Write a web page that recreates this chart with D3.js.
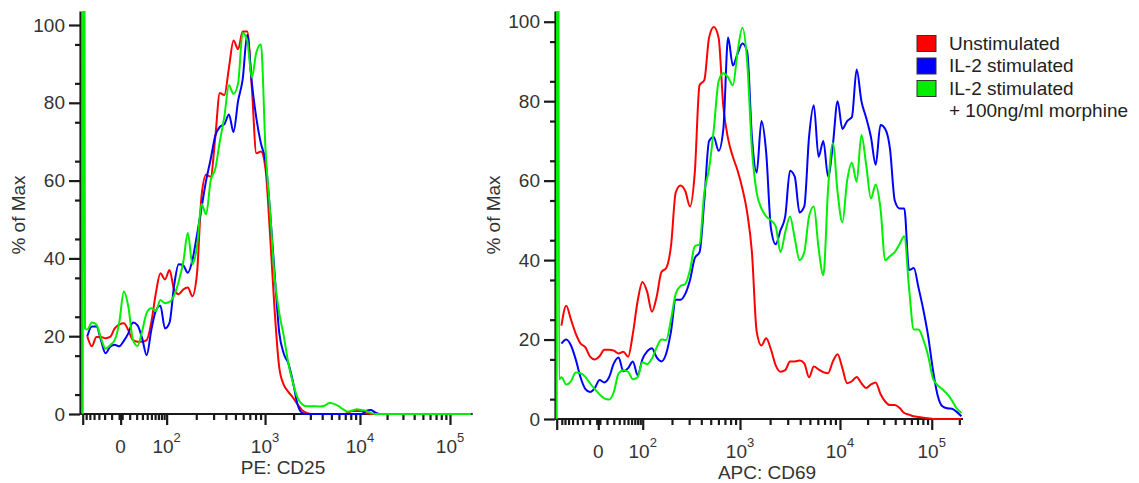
<!DOCTYPE html>
<html lang="en">
<head>
<meta charset="UTF-8">
<title>CD25 / CD69 histograms</title>
<script src="https://d3js.org/d3.v7.min.js"></script>
<style>
  body { margin: 0; background: #fff; }
  svg { display: block; font-family: "Liberation Sans", Arial, sans-serif; }
  .axis path, .axis line { stroke: #1a1a1a; stroke-width: 2.2; }
  .axis text { fill: #333; font-size: 19px; font-family: "Liberation Sans", Arial, sans-serif; }
  .trace { fill: none; stroke-width: 2; stroke-linejoin: round; }
  .title { fill: #333; font-size: 19px; }
  .legend text { fill: #222; font-size: 19px; }
</style>
</head>
<body>
<svg width="1139" height="483"></svg>
<script>
// histogram bins (display channels, 256 across the biexponential axis)
const channels = [0, 0.7, 1.5, 3, 6, 9, 12, 15, 18, 21, 24, 27, 30, 33, 36, 39, 42, 45, 48, 51, 54,
  57, 60, 63, 66, 69, 72, 75, 78, 81, 84, 87, 90, 93, 96, 99, 102, 105, 108, 111, 114,
  117, 120, 123, 126, 129, 132, 135, 138, 141, 144, 147, 150, 153, 156, 159, 162, 165, 168, 171, 174,
  177, 180, 183, 186, 189, 192, 195, 198, 201, 204, 207, 210, 213, 216, 219, 222, 225, 228, 231, 234,
  237, 240, 243, 246, 249, 252, 255];

// PE: CD25, % of max
const cd25Unstim = [null, null, null,
  20, 17.4, 19.8, 19.8, 19.5, 19.8, 22, 23, 23.3, 21.5,
  19, 18.6, 18.6, 19, 23.5, 31, 36.2, 34.6, 37, 32,
  30.8, 32, 32.5, 30.3, 36, 56, 61.5, 61, 71, 82.5,
  82, 89, 96, 93.8, 98.3, 98.3, 84, 67, 67.5, 63,
  46, 26.5, 12, 7.5, 5.7, 4.2, 2.5, 1, 0.3, 0,
  0, 0, 0, 0, 0, 0, 0, 0.3, 0.8, 0.8,
  0.8, 0.2, 0, 0, 0, 0, 0, 0, 0, 0,
  0, 0, 0, 0, 0, 0, 0, 0, 0, 0,
  0, 0, 0, 0, 0];
const cd25IL2 = [null, null, null,
  20, 22.5, 22.5, 19, 15.6, 17.3, 17.8, 17.4, 18.8, 20.8,
  23.5, 22.8, 19.5, 15.1, 21.5, 26.5, 27.8, 22, 23.5, 33,
  38.5, 38.2, 36.3, 39.5, 46, 53, 60, 65.5, 71.5, 73.8,
  74.5, 77, 72.5, 80.5, 86, 97.5, 85.2, 76, 69.5, 65,
  52, 36, 21, 15.5, 13, 8.3, 2.5, 0.3, 0, 0,
  0, 0, 0, 0, 0, 0, 0, 0, 0, 0,
  0, 0.8, 1, 0.4, 0, 0, 0, 0, 0, 0,
  0, 0, 0, 0, 0, 0, 0, 0, 0, 0,
  0, 0, 0, 0, 0];
const cd25Morphine = [0, 250, 22,
  21.7, 23.5, 23, 19.5, 16.8, 17.7, 19, 23.5, 31.5, 27.5,
  19, 17.5, 21.3, 26, 27.2, 26.5, 29.3, 28.5, 28.8, 30.5,
  34, 39, 46.5, 38.5, 43, 54, 51.3, 60, 63, 70,
  76.5, 84.5, 82.3, 85, 98, 96, 86.5, 93, 95, 68,
  52, 35, 26, 20, 13, 8, 4.2, 2.5, 2, 2,
  2, 1.9, 2.2, 2.8, 2.6, 2, 1.2, 0.6, 0.9, 1.2,
  1, 0.8, 0.3, 0, 0, 0, 0, 0, 0, 0,
  0, 0, 0, 0, 0, 0, 0, 0, 0, 0,
  0, 0, 0, 0, 0];

// APC: CD69, % of max
const cd69Unstim = [null, null, null,
  23.5, 28.5, 25, 21.5, 19, 18.1, 15.7, 15, 15.8, 17.4,
  17.4, 17.2, 16.5, 16.9, 15.7, 21.5, 29.7, 34.5, 32, 27,
  30.8, 37, 38, 43.5, 57, 58.8, 57.4, 53.5, 62, 84,
  85.3, 96, 98.7, 96, 78.6, 70.5, 66, 62.5, 58, 52,
  42, 22, 18.5, 20.3, 17.5, 13.5, 11.9, 12.3, 14.5, 14.5,
  14.7, 14, 10.5, 13.2, 12.5, 11.8, 11.5, 14.5, 16.3, 12.8,
  9, 9.5, 10.6, 9, 7.8, 8.7, 9.2, 6.3, 4.4, 3.5,
  3.5, 2.8, 1.5, 1.1, 0.7, 0.5, 0.3, 0.2, 0, 0,
  0, 0, 0, 0, 0];
const cd69IL2 = [null, null, null,
  19, 20, 18.5, 15, 10.5, 7.6, 6.8, 7.8, 9.8, 9.2,
  10.5, 14, 15.5, 12, 12.8, 14.5, 11, 15, 17, 17.8,
  15.5, 14.5, 16.5, 22, 30, 30, 31.5, 35, 40.5, 42,
  55, 70, 71, 67.5, 73, 96, 89, 92, 94.5, 92.5,
  71, 62, 75, 67, 48, 44, 47.5, 51, 62.5, 61,
  52, 53.5, 71, 79, 66, 70, 61, 69, 80, 73,
  75, 76, 88, 80, 75.8, 71, 64, 74, 73, 68,
  55, 53, 53, 37.5, 38, 33, 27.5, 21, 12.5, 6,
  3.2, 2.7, 2.6, 1.8, 0.7];
const cd69Morphine = [0, 250, 10,
  10.5, 8.7, 9.5, 11.7, 11.5, 10.6, 9, 7.5, 6.2, 5.2,
  4.9, 6.8, 11.5, 12.3, 11.9, 10, 10.5, 14.3, 13.8, 15.2,
  18, 20, 19.9, 25, 31.5, 33.5, 34, 37.5, 43.5, 44,
  57, 63, 73, 85, 87, 86, 84, 92.5, 98.5, 90,
  68, 57, 53, 51, 50, 48.5, 42, 47, 51, 45.5,
  40, 42, 51, 53.5, 43, 36.2, 58, 69.5, 57, 49.5,
  60, 64.5, 59.7, 71.5, 64, 55.5, 59, 53, 40, 41,
  42, 44, 46, 33, 22.5, 22.5, 20, 16, 10.3, 8.5,
  7.5, 6.3, 4.7, 2.7, 1.5];

// axis ticks: channel of left end, 0, 10^2, 10^3, 10^4, 10^5
const cd25TickChannels = [0, 24.9, 55.1, 119.7, 182.0, 241.1];
const cd69TickChannels = [0, 26.2, 54.2, 115.5, 178.5, 236.3];
const tickBase = ["", "0", "10", "10", "10", "10"];
const tickExp = ["", "", "2", "3", "4", "5"];
const yTicks = [0, 20, 40, 60, 80, 100];

const seriesNames = ["Unstimulated", "IL-2 stimulated", "IL-2 stimulated"];
const legendExtra = ["", "", "+ 100ng/ml morphine"];
const colors = ["#ff0000", "#0000ff", "#00ee00"];

const svg = d3.select("svg");

const panels = [
  { title: "PE: CD25", ticks: cd25TickChannels, series: [cd25Unstim, cd25IL2, cd25Morphine],
    axisX: 80, xRange: [82.7, 472.7], bottom: 414, top: 11, yMax: 103.6, titleX: 283 },
  { title: "APC: CD69", ticks: cd69TickChannels, series: [cd69Unstim, cd69IL2, cd69Morphine],
    axisX: 555, xRange: [556.7, 963], bottom: 419, top: 11, yMax: 102.7, titleX: 767 }
];

function minorChannels(maj) {
  const out = [];
  const f = v => Math.log(1 + v / 30) / Math.log(1 + 100 / 30);
  const span = maj[2] - maj[1];
  for (let v = 10; v < 100; v += 10) {
    out.push(maj[1] + span * f(v));
    const neg = maj[1] - span * f(v);
    if (neg > maj[0] + 2) out.push(neg);
  }
  out.push(maj[1] - 1, maj[1] + 1);
  for (let k = 2; k < 5; k++) {
    for (let m = 2; m < 10; m++) out.push(maj[k] + (maj[k + 1] - maj[k]) * Math.log10(m));
  }
  const last = maj[5] - maj[4];
  for (let m = 2; m < 10; m++) {
    const c = maj[5] + last * Math.log10(m);
    if (c <= 256) out.push(c);
  }
  return out;
}

panels.forEach((p, pi) => {
  const g = svg.append("g");
  const x = d3.scaleLinear().domain([0, 256]).range(p.xRange);
  const y = d3.scaleLinear().domain([0, p.yMax]).range([p.bottom, p.top]);

  // y axis
  g.append("g").attr("class", "axis")
    .attr("transform", `translate(${p.axisX},0)`)
    .call(d3.axisLeft(y).tickValues(yTicks).tickSize(11).tickSizeOuter(0).tickPadding(4));
  g.append("g").attr("class", "axis")
    .attr("transform", `translate(${p.axisX},0)`)
    .call(d3.axisLeft(y).tickValues(d3.range(5, 101, 10)).tickSize(5).tickFormat(""))
    .call(a => a.select(".domain").remove());

  // x axis
  const xg = g.append("g").attr("class", "axis")
    .attr("transform", `translate(0,${p.bottom})`);
  xg.append("line").attr("x1", p.axisX).attr("x2", p.xRange[1])
    .attr("y1", 0).attr("y2", 0);
  xg.append("g")
    .call(d3.axisBottom(x).tickValues(p.ticks).tickSize(11).tickFormat(""))
    .call(a => a.select(".domain").remove());
  xg.append("g")
    .call(d3.axisBottom(x).tickValues(minorChannels(p.ticks)).tickSize(6).tickFormat(""))
    .call(a => a.select(".domain").remove());

  const lab = xg.selectAll("text.lab")
    .data(p.ticks.map((c, i) => ({ c, base: tickBase[i], exp: tickExp[i] })).filter(d => d.base))
    .join("text")
    .attr("class", "lab")
    .attr("x", d => x(d.c))
    .attr("y", 39)
    .attr("text-anchor", "middle");
  lab.append("tspan").text(d => d.base);
  lab.append("tspan").attr("dy", -11).attr("font-size", 13).text(d => d.exp);

  // axis titles
  g.append("text").attr("class", "title")
    .attr("x", p.titleX).attr("y", p.bottom + 60)
    .attr("text-anchor", "middle").text(p.title);
  g.append("text").attr("class", "title")
    .attr("transform", `translate(${p.axisX - 55},215) rotate(-90)`)
    .attr("text-anchor", "middle").attr("font-size", 17).text("% of Max");

  // traces
  const clipId = "clip" + pi;
  svg.append("clipPath").attr("id", clipId)
    .append("rect").attr("x", p.axisX).attr("y", p.top)
    .attr("width", p.xRange[1] - p.axisX + 3).attr("height", p.bottom - p.top + 1);

  const line = d3.line()
    .defined(d => d[1] != null)
    .x(d => x(d[0]))
    .y(d => y(d[1]))
    .curve(d3.curveMonotoneX);

  g.append("g").attr("clip-path", `url(#${clipId})`)
    .selectAll("path")
    .data(p.series)
    .join("path")
    .attr("class", "trace")
    .attr("stroke", (d, i) => colors[i])
    .attr("d", s => line(channels.map((c, i) => [c, s[i]])));
});

// legend
const legend = svg.append("g").attr("class", "legend");
seriesNames.forEach((name, i) => {
  const base = 49.5 + 22.5 * i;
  legend.append("rect")
    .attr("x", 917).attr("y", base - 14)
    .attr("width", 19).attr("height", 16)
    .attr("fill", colors[i]).attr("stroke", "#333").attr("stroke-width", 1);
  legend.append("text").attr("x", 949).attr("y", base).text(name);
  if (legendExtra[i]) {
    legend.append("text").attr("x", 949).attr("y", base + 22.5).text(legendExtra[i]);
  }
});
</script>
</body>
</html>
